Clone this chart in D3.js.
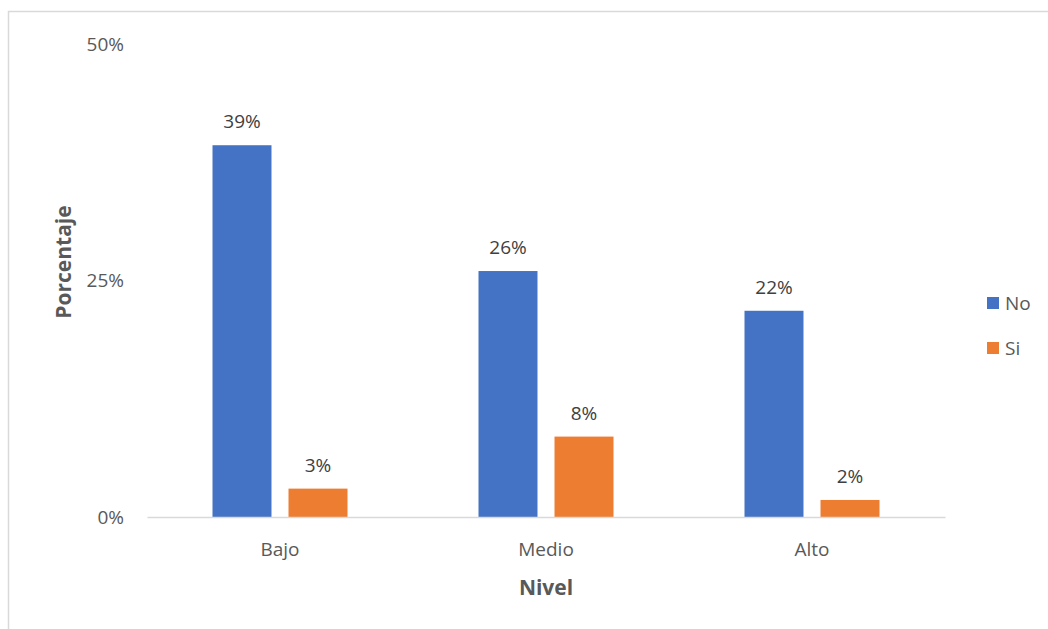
<!DOCTYPE html>
<html><head><meta charset="utf-8">
<script src="https://cdn.jsdelivr.net/npm/d3@7"></script>
<style>body{margin:0;background:#fff}svg{display:block}text{font-family:"Open Sans",sans-serif}</style>
</head><body><svg id="c" width="1048" height="629"></svg>
<script>
const categories = ["Bajo", "Medio", "Alto"];
const seriesNames = ["No", "Si"];
const valuesNo = [39.3, 26.0, 21.8];
const valuesSi = [3.0, 8.5, 1.8];
const labelsNo = ["39%", "26%", "22%"];
const labelsSi = ["3%", "8%", "2%"];
const yTicks = [0, 25, 50];
const colors = ["#4472C4", "#ED7D31"];

const svg = d3.select("#c");
svg.append("rect").attr("x", 8.5).attr("y", 11.5).attr("width", 1100).attr("height", 700)
  .attr("fill", "none").attr("stroke", "#d9d9d9").attr("stroke-width", 1.5);

const pL = 147, pR = 945, pT = 44, pB = 517;
const x = d3.scaleBand().domain(categories).range([pL, pR]);
const xs = d3.scaleBand().domain(seriesNames).range([0, 135]).paddingInner(0.224);
const y = d3.scaleLinear().domain([0, 50]).range([pB, pT]);

const ya = svg.append("g").attr("transform", `translate(${pL - 23},0)`)
  .call(d3.axisLeft(y).tickValues(yTicks).tickFormat(d => d + "%").tickSize(0).tickPadding(0));
ya.select(".domain").remove();
ya.selectAll("text").attr("font-size", 19).attr("fill", "#595959").attr("font-family", "Open Sans, sans-serif");

const series = [valuesNo, valuesSi];
const labs = [labelsNo, labelsSi];
categories.forEach((c, i) => {
  const gx = x(c) + x.bandwidth() / 2 - 67.5;
  seriesNames.forEach((s, j) => {
    const v = series[j][i];
    svg.append("rect").attr("x", gx + xs(s)).attr("y", y(v)).attr("width", xs.bandwidth())
      .attr("height", y(0) - y(v)).attr("fill", colors[j]);
    svg.append("text").attr("x", gx + xs(s) + xs.bandwidth() / 2).attr("y", y(v) - 17)
      .attr("text-anchor", "middle").attr("font-size", 19).attr("fill", "#404040").text(labs[j][i]);
  });
});

const xa = svg.append("g").attr("transform", `translate(0,${pB})`)
  .call(d3.axisBottom(x).tickSize(0).tickPadding(26));
xa.select(".domain").attr("stroke", "#d9d9d9").attr("stroke-width", 1.5);
xa.selectAll("text").attr("font-size", 19).attr("fill", "#595959").attr("font-family", "Open Sans, sans-serif");

svg.append("text").attr("x", 546).attr("y", 595).attr("text-anchor", "middle")
  .attr("font-size", 21).attr("font-weight", "bold").attr("fill", "#595959").text("Nivel");
svg.append("text").attr("transform", "translate(71,262) rotate(-90)").attr("text-anchor", "middle")
  .attr("font-size", 21).attr("font-weight", "bold").attr("fill", "#595959").text("Porcentaje");

seriesNames.forEach((s, j) => {
  const ly = 303 + j * 45;
  svg.append("rect").attr("x", 987).attr("y", ly - 6).attr("width", 12).attr("height", 12).attr("fill", colors[j]);
  svg.append("text").attr("x", 1005).attr("y", ly + 7).attr("font-size", 19).attr("fill", "#595959").text(s);
});
</script></body></html>
